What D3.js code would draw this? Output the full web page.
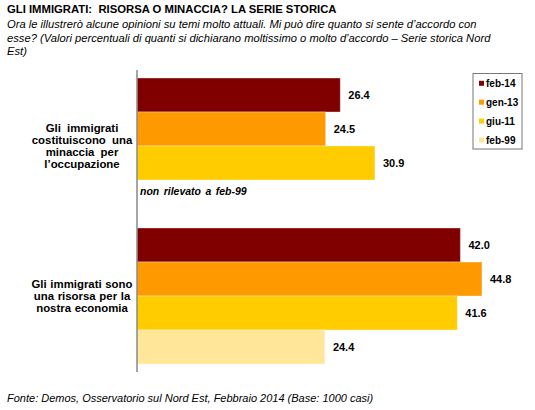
<!DOCTYPE html>
<html><head><meta charset="utf-8">
<script src="https://cdn.jsdelivr.net/npm/d3@7"></script>
<style>
body{margin:0;background:#fff;}
svg{display:block;font-family:Arial,"Liberation Sans",sans-serif;}
</style></head>
<body><svg id="c" width="535" height="410"></svg>
<script>
const categories = [
  ["Gli immigrati", "costituiscono una", "minaccia per", "l\u2019occupazione"],
  ["Gli immigrati sono", "una risorsa per la", "nostra economia"]
];
const seriesNames = ["feb-14", "gen-13", "giu-11", "feb-99"];
const seriesColors = ["#800000", "#FF9900", "#FFCC00", "#FFE699"];
const feb14 = [26.4, 42.0];
const gen13 = [24.5, 44.8];
const giu11 = [30.9, 41.6];
const feb99 = [null, 24.4];
const values = [feb14, gen13, giu11, feb99];
const title = "GLI IMMIGRATI:  RISORSA O MINACCIA? LA SERIE STORICA";
const subtitle = ["Ora le illustrer\u00f2 alcune opinioni su temi molto attuali. Mi pu\u00f2 dire quanto si sente d\u2019accordo con",
  "esse? (Valori percentuali di quanti si dichiarano moltissimo o molto d\u2019accordo \u2013 Serie storica Nord",
  "Est)"];
const note = "non rilevato a feb-99";
const source = "Fonte: Demos, Osservatorio sul Nord Est, Febbraio 2014 (Base: 1000 casi)";

const svg = d3.select("#c");
svg.append("text").attr("x", 7).attr("y", 13).attr("font-size", 11.3).attr("font-weight", "bold")
  .attr("fill", "#000").attr("xml:space", "preserve").style("white-space", "pre").text(title);
subtitle.forEach((s, i) => svg.append("text").attr("x", 7).attr("y", 28 + i * 13.7)
  .attr("font-size", 11.2).attr("font-style", "italic").attr("fill", "#000").text(s));
svg.append("text").attr("x", 7).attr("y", 402).attr("font-size", 11).attr("font-style", "italic")
  .attr("fill", "#000").text(source);

const x0 = 137;
const x = d3.scaleLinear().domain([0, 50]).range([x0, x0 + 385]);
const y0 = d3.scaleBand().domain(d3.range(categories.length)).range([70, 372])
  .paddingInner(0.0933).paddingOuter(0.0533);
const y1 = d3.scaleBand().domain(d3.range(seriesNames.length)).range([0, y0.bandwidth()]);

const g = svg.append("g");
categories.forEach((cat, ci) => {
  seriesNames.forEach((s, si) => {
    const v = values[si][ci];
    const yy = y0(ci) + y1(si);
    if (v == null) {
      if (ci === 0 && si === 3) {
        g.append("text").attr("x", x0 + 3).attr("y", yy + y1.bandwidth() / 2 - 6)
          .attr("dominant-baseline", "central").attr("font-size", 10.5).attr("font-weight", "bold")
          .attr("font-style", "italic").attr("word-spacing", 1.5).attr("fill", "#000").text(note);
      }
      return;
    }
    g.append("rect").attr("x", x(0)).attr("y", yy).attr("width", x(v) - x(0))
      .attr("height", y1.bandwidth()).attr("fill", seriesColors[si])
      .attr("stroke", "rgba(255,255,255,0.35)").attr("stroke-width", 1);
    g.append("text").attr("x", x(v) + 8).attr("y", yy + y1.bandwidth() / 2)
      .attr("dominant-baseline", "central").attr("font-size", 11).attr("font-weight", "bold")
      .attr("fill", "#000").text(v.toFixed(1));
  });
  const lines = cat;
  const cy = y0(ci) + y0.bandwidth() / 2;
  const lh = 12;
  lines.forEach((l, li) => {
    g.append("text").attr("x", 82).attr("y", cy + (li - (lines.length - 1) / 2) * lh)
      .attr("text-anchor", "middle").attr("dominant-baseline", "central")
      .attr("font-size", 11.4).attr("font-weight", "bold").attr("word-spacing", ci === 0 ? 3 : 0.5)
      .attr("fill", "#000").text(l);
  });
});

svg.append("line").attr("x1", x0).attr("x2", x0).attr("y1", 70).attr("y2", 372)
  .attr("stroke", "#888").attr("stroke-width", 1.5);

// legend
const lg = svg.append("g");
lg.append("rect").attr("x", 473).attr("y", 73.5).attr("width", 49).attr("height", 75.5)
  .attr("fill", "#fff").attr("stroke", "#777").attr("stroke-width", 1);
seriesNames.forEach((s, i) => {
  const cy = 83.3 + i * 18.9;
  lg.append("rect").attr("x", 479).attr("y", cy - 2.5).attr("width", 5).attr("height", 5)
    .attr("fill", seriesColors[i]);
  lg.append("text").attr("x", 486).attr("y", cy).attr("dominant-baseline", "central")
    .attr("font-size", 10).attr("font-weight", "bold").attr("fill", "#000").text(s);
});
</script></body></html>
